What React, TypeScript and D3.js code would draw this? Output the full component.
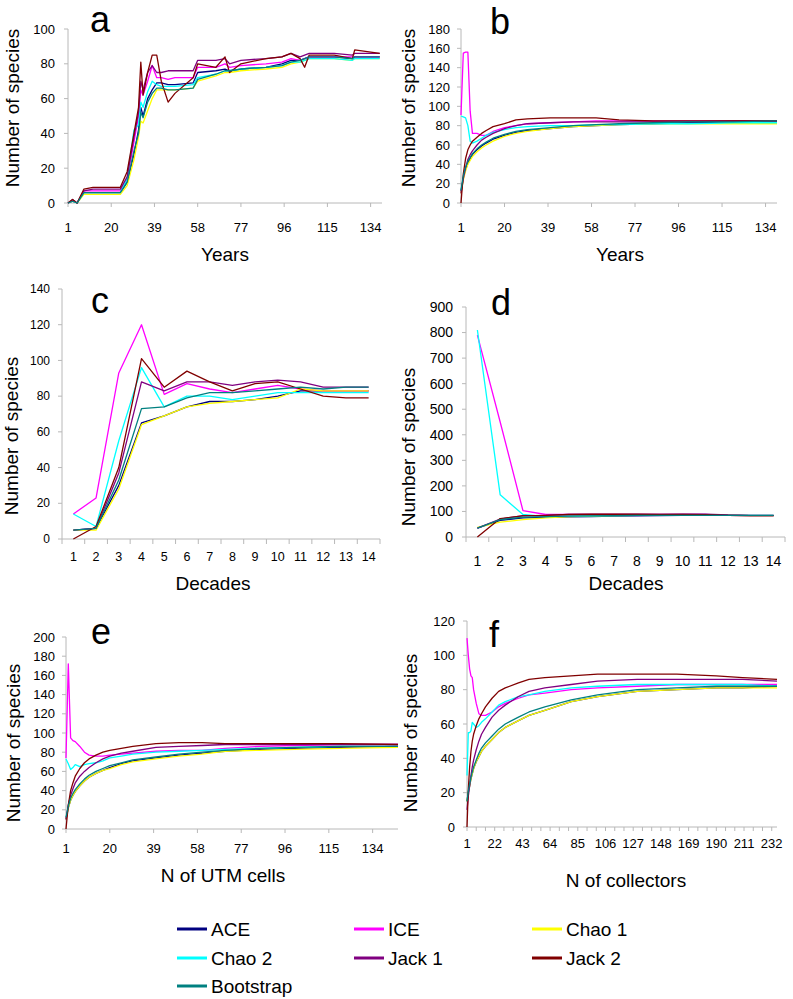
import React from 'react';
import * as d3 from 'd3';

const SERIES_NAMES = ['ACE', 'ICE', 'Chao 1', 'Chao 2', 'Jack 1', 'Jack 2', 'Bootstrap'];
const SERIES_COLORS = ['#000080', '#FF00FF', '#FFFF00', '#00FFFF', '#800080', '#800000', '#008080'];

// ---- Panel a: Years (observed)
const aYears = [1, 3, 5, 8, 12, 24, 27, 30, 32, 33, 34, 36, 38, 40, 42, 45, 48, 56, 58, 66, 70, 72, 77, 88, 95, 99, 103, 105, 107, 118, 126, 127, 138];
const aACE = [0, 1, 0, 6, 6, 6, 12, 28, 42, 55, 50, 60, 65, 69, 69, 68, 68, 69, 75, 76, 77, 76, 77, 78, 80, 82, 82, 83, 84, 84, 83, 84, 84];
const aICE = [0, 1, 0, 7, 7, 7, 14, 35, 50, 65, 62, 70, 79, 72, 72, 71, 72, 72, 78, 78, 80, 78, 79, 80, 81, 83, 82, 83, 84, 84, 84, 84, 84];
const aChao1 = [0, 1, 0, 5, 5, 5, 10, 25, 38, 47, 46, 53, 60, 65, 65, 65, 65, 66, 70, 73, 75, 75, 76, 77, 78, 80, 81, 82, 83, 83, 82, 83, 83];
const aChao2 = [0, 1, 0, 6, 6, 6, 14, 42, 45, 58, 55, 64, 70, 68, 67, 67, 67, 68, 72, 74, 76, 76, 77, 78, 79, 81, 81, 82, 83, 83, 82, 83, 83];
const aJack1 = [0, 2, 0, 7, 8, 8, 15, 38, 52, 70, 65, 75, 79, 75, 75, 76, 76, 76, 82, 82, 83, 80, 82, 83, 84, 86, 84, 85, 86, 86, 85, 86, 86];
const aJack2 = [0, 2, 0, 8, 9, 9, 18, 40, 55, 81, 62, 75, 85, 85, 70, 58, 63, 72, 80, 78, 84, 75, 80, 83, 84, 86, 83, 78, 85, 85, 83, 88, 86];
const aBoot = [0, 1, 0, 6, 6, 6, 12, 30, 40, 52, 49, 58, 63, 66, 66, 65, 65, 66, 71, 74, 76, 76, 77, 78, 79, 81, 82, 83, 84, 84, 83, 84, 84];

// ---- Panel b: Years (randomized)
const bYears = [1, 2, 3, 4, 5, 6, 8, 10, 12, 15, 20, 25, 30, 40, 50, 60, 70, 85, 100, 120, 139];
const bACE = [12, 26, 35, 41, 46, 50, 55, 59, 62, 66, 70, 73, 75, 77, 79, 80, 81, 82, 83, 84, 84];
const bICE = [91, 155, 156, 156, 95, 72, 72, 70, 70, 74, 78, 80, 82, 83, 84, 85, 85, 85, 85, 85, 85];
const bChao1 = [10, 24, 33, 40, 44, 48, 53, 57, 60, 64, 69, 72, 74, 77, 79, 80, 81, 82, 82, 82, 82];
const bChao2 = [90, 89, 88, 80, 64, 62, 64, 67, 70, 73, 76, 78, 79, 80, 80, 81, 81, 82, 82, 83, 83];
const bJack1 = [10, 25, 36, 45, 50, 54, 60, 65, 68, 72, 77, 80, 82, 83, 84, 84, 84, 84, 84, 85, 85];
const bJack2 = [0, 30, 46, 55, 60, 64, 68, 72, 75, 79, 82, 86, 87, 88, 88, 88, 86, 85, 85, 85, 85];
const bBoot = [13, 28, 37, 43, 47, 51, 56, 60, 63, 67, 71, 74, 76, 78, 80, 81, 82, 83, 84, 84, 85];

// ---- Panel c: Decades (observed)
const decades = [1, 2, 3, 4, 5, 6, 7, 8, 9, 10, 11, 12, 13, 14];
const cACE = [5, 6, 30, 65, 69, 74, 77, 77, 78, 80, 83, 83, 83, 83];
const cICE = [14, 23, 93, 120, 81, 87, 84, 82, 84, 86, 84, 83, 83, 83];
const cChao1 = [5, 5, 28, 64, 69, 74, 76, 77, 78, 79, 84, 83, 83, 83];
const cChao2 = [14, 7, 55, 96, 74, 80, 80, 78, 80, 82, 82, 82, 82, 82];
const cJack1 = [5, 6, 37, 88, 83, 88, 88, 86, 88, 89, 88, 85, 85, 85];
const cJack2 = [0, 7, 40, 101, 85, 94, 88, 83, 87, 88, 84, 80, 79, 79];
const cBoot = [5, 6, 33, 73, 74, 79, 82, 82, 83, 84, 85, 84, 85, 85];

// ---- Panel d: Decades (randomized)
const dACE = [35, 65, 75, 77, 79, 80, 82, 83, 84, 85, 85, 85, 84, 84];
const dICE = [790, 450, 103, 88, 88, 88, 88, 88, 88, 88, 88, 85, 84, 84];
const dChao1 = [38, 58, 68, 75, 80, 82, 84, 85, 85, 85, 85, 85, 84, 84];
const dChao2 = [810, 165, 88, 80, 82, 83, 84, 85, 85, 85, 85, 85, 85, 85];
const dJack1 = [35, 70, 84, 85, 88, 88, 88, 88, 88, 89, 89, 86, 85, 85];
const dJack2 = [0, 72, 83, 85, 88, 89, 89, 89, 88, 88, 87, 85, 84, 84];
const dBoot = [35, 68, 78, 80, 82, 83, 84, 85, 85, 85, 85, 85, 85, 85];

// ---- Panel e: N of UTM cells
const eCells = [1, 2, 3, 4, 5, 7, 9, 11, 14, 17, 20, 25, 30, 40, 50, 60, 70, 85, 100, 120, 145];
const eACE = [10, 22, 30, 35, 39, 45, 50, 54, 58, 61, 64, 68, 71, 74, 77, 79, 81, 83, 84, 85, 86];
const eICE = [74, 172, 95, 92, 91, 86, 80, 77, 76, 76, 77, 78, 79, 81, 82, 82, 84, 86, 87, 88, 88];
const eChao1 = [10, 22, 30, 35, 39, 45, 50, 54, 58, 61, 63, 67, 70, 73, 76, 78, 81, 82, 83, 84, 85];
const eChao2 = [73, 68, 62, 64, 67, 65, 67, 68, 69, 71, 74, 76, 78, 80, 81, 82, 83, 84, 85, 86, 86];
const eJack1 = [10, 25, 35, 42, 48, 55, 60, 64, 69, 73, 76, 79, 81, 85, 86, 87, 88, 88, 88, 88, 88];
const eJack2 = [0, 25, 40, 48, 55, 63, 69, 73, 77, 80, 82, 84, 86, 89, 90, 90, 89, 89, 89, 89, 88];
const eBoot = [12, 24, 32, 37, 41, 47, 52, 56, 60, 63, 66, 69, 72, 75, 78, 80, 82, 84, 85, 86, 86];

// ---- Panel f: N of collectors
const fCollectors = [1, 2, 3, 4, 5, 6, 8, 10, 12, 15, 20, 25, 30, 40, 48, 60, 80, 100, 130, 160, 190, 210, 236];
const fACE = [15, 20, 24, 28, 31, 34, 38, 41, 44, 47, 51, 55, 58, 62, 65, 68, 73, 76, 79, 80, 81, 81, 82];
const fICE = [110, 100, 92, 88, 87, 80, 72, 66, 65, 65, 67, 70, 72, 75, 77, 78, 80, 81, 82, 83, 83, 83, 83];
const fChao1 = [15, 20, 24, 28, 31, 34, 38, 41, 44, 47, 51, 55, 58, 62, 65, 68, 73, 76, 79, 80, 81, 81, 81];
const fChao2 = [30, 55, 55, 56, 61, 60, 58, 59, 61, 63, 67, 71, 73, 76, 77, 79, 81, 82, 83, 83, 83, 83, 82];
const fJack1 = [10, 18, 24, 30, 35, 39, 45, 50, 54, 58, 64, 68, 71, 76, 79, 81, 83, 85, 86, 86, 86, 86, 85];
const fJack2 = [0, 22, 35, 44, 50, 54, 59, 63, 66, 70, 75, 79, 81, 84, 86, 87, 88, 89, 89, 89, 88, 87, 86];
const fBoot = [15, 21, 25, 29, 32, 35, 39, 43, 46, 49, 53, 57, 60, 64, 67, 70, 74, 77, 80, 81, 82, 82, 82];

const yearTicks = [1, 20, 39, 58, 77, 96, 115, 134];
const collectorTicks = [1, 22, 43, 64, 85, 106, 127, 148, 169, 190, 211, 232];

const FONT = "'Liberation Sans', Arial, Helvetica, sans-serif";
const AXIS = '#b8b8b8';

type PanelDef = {
  letter: string; letterX: number; letterY: number;
  kind: 'linear' | 'band';
  left: number; right: number; top: number; bottom: number;
  xDomain?: [number, number]; xTicks?: number[]; minorStep?: number;
  yMax: number; yStep: number;
  xs: number[]; series: number[][];
  xLabel: string; xLabelX: number; xLabelY: number;
  yTitleX: number; yTitleY: number;
  tickFont: number; xTickFont: number; xTickY: number; yGap: number;
};

const panels: PanelDef[] = [
  { letter: 'a', letterX: 90, letterY: 32, kind: 'linear', left: 68, right: 382, top: 29, bottom: 203,
    xDomain: [1, 139], xTicks: yearTicks, yMax: 100, yStep: 20, xs: aYears,
    series: [aACE, aICE, aChao1, aChao2, aJack1, aJack2, aBoot],
    xLabel: 'Years', xLabelX: 225, xLabelY: 254, yTitleX: 12, yTitleY: 108,
    tickFont: 13, xTickFont: 13, xTickY: 227, yGap: 13 },
  { letter: 'b', letterX: 490, letterY: 34, kind: 'linear', left: 461, right: 777, top: 29, bottom: 203,
    xDomain: [1, 139], xTicks: yearTicks, yMax: 180, yStep: 20, xs: bYears,
    series: [bACE, bICE, bChao1, bChao2, bJack1, bJack2, bBoot],
    xLabel: 'Years', xLabelX: 620, xLabelY: 254, yTitleX: 408, yTitleY: 108,
    tickFont: 13, xTickFont: 13, xTickY: 227, yGap: 11 },
  { letter: 'c', letterX: 91, letterY: 313, kind: 'band', left: 62, right: 380, top: 289, bottom: 539,
    yMax: 140, yStep: 20, xs: decades,
    series: [cACE, cICE, cChao1, cChao2, cJack1, cJack2, cBoot],
    xLabel: 'Decades', xLabelX: 213, xLabelY: 583, yTitleX: 11, yTitleY: 436,
    tickFont: 12, xTickFont: 12.5, xTickY: 557, yGap: 12 },
  { letter: 'd', letterX: 491, letterY: 315, kind: 'band', left: 466, right: 785, top: 307, bottom: 537,
    yMax: 900, yStep: 100, xs: decades,
    series: [dACE, dICE, dChao1, dChao2, dJack1, dJack2, dBoot],
    xLabel: 'Decades', xLabelX: 626, xLabelY: 583, yTitleX: 408, yTitleY: 447,
    tickFont: 14, xTickFont: 14, xTickY: 561, yGap: 13 },
  { letter: 'e', letterX: 91, letterY: 644, kind: 'linear', left: 66, right: 398, top: 637, bottom: 829,
    xDomain: [1, 145], xTicks: yearTicks, yMax: 200, yStep: 20, xs: eCells,
    series: [eACE, eICE, eChao1, eChao2, eJack1, eJack2, eBoot],
    xLabel: 'N of UTM cells', xLabelX: 223, xLabelY: 875, yTitleX: 13, yTitleY: 743,
    tickFont: 13, xTickFont: 13, xTickY: 848, yGap: 11 },
  { letter: 'f', letterX: 489, letterY: 647, kind: 'linear', left: 467, right: 777, top: 621, bottom: 827,
    xDomain: [1, 236], xTicks: collectorTicks, minorStep: 7, yMax: 120, yStep: 20, xs: fCollectors,
    series: [fACE, fICE, fChao1, fChao2, fJack1, fJack2, fBoot],
    xLabel: 'N of collectors', xLabelX: 626, xLabelY: 880, yTitleX: 410, yTitleY: 733,
    tickFont: 13, xTickFont: 13, xTickY: 843, yGap: 12 },
];

function Panel({ p }: { p: PanelDef }) {
  const y = d3.scaleLinear().domain([0, p.yMax]).range([p.bottom, p.top]);
  const yTicks = d3.range(0, p.yMax + 0.001, p.yStep);
  let xPos: (v: number) => number;
  let xTickEls: React.ReactNode[] = [];
  let xLabelEls: React.ReactNode[] = [];
  if (p.kind === 'band') {
    const xb = d3.scaleBand<number>().domain(p.xs).range([p.left, p.right]).padding(0);
    const bw = xb.bandwidth();
    xPos = (v: number) => (xb(v) as number) + bw / 2;
    xTickEls = d3.range(0, p.xs.length + 1).map((k) => (
      <line key={'t' + k} x1={p.left + k * bw} x2={p.left + k * bw} y1={p.bottom} y2={p.bottom + 5} stroke={AXIS} />
    ));
    xLabelEls = p.xs.map((v) => (
      <text key={'l' + v} x={xPos(v)} y={p.xTickY} dy="0.35em" textAnchor="middle" fontSize={p.xTickFont}>{v}</text>
    ));
  } else {
    const xl = d3.scaleLinear().domain(p.xDomain as [number, number]).range([p.left, p.right]);
    xPos = (v: number) => xl(v);
    const minor = p.minorStep ? d3.range(1, (p.xDomain as number[])[1] + 0.1, p.minorStep) : (p.xTicks as number[]);
    xTickEls = minor.map((v) => (
      <line key={'t' + v} x1={xl(v)} x2={xl(v)} y1={p.bottom} y2={p.bottom + 4} stroke={AXIS} />
    ));
    xLabelEls = (p.xTicks as number[]).map((v) => (
      <text key={'l' + v} x={xl(v)} y={p.xTickY} dy="0.35em" textAnchor="middle" fontSize={p.xTickFont}>{v}</text>
    ));
  }
  const line = d3.line<number>()
    .x((_, i) => xPos(p.xs[i]))
    .y((d) => y(d));
  return (
    <g>
      <line x1={p.left} x2={p.left} y1={p.top} y2={p.bottom} stroke={AXIS} />
      <line x1={p.left} x2={p.right} y1={p.bottom} y2={p.bottom} stroke={AXIS} />
      {yTicks.map((t) => (
        <g key={'y' + t}>
          <line x1={p.left - 4} x2={p.left} y1={y(t)} y2={y(t)} stroke={AXIS} />
          <text x={p.left - p.yGap} y={y(t)} dy="0.35em" textAnchor="end" fontSize={p.tickFont}>{t}</text>
        </g>
      ))}
      {xTickEls}
      {xLabelEls}
      {p.series.map((s, i) => (
        <path key={'s' + i} d={line(s) as string} fill="none" stroke={SERIES_COLORS[i]} strokeWidth={1.3} strokeLinejoin="round" />
      ))}
      <text x={p.letterX} y={p.letterY} fontSize={36}>{p.letter}</text>
      <text x={p.xLabelX} y={p.xLabelY} dy="0.35em" textAnchor="middle" fontSize={19}>{p.xLabel}</text>
      <text transform={`translate(${p.yTitleX},${p.yTitleY}) rotate(-90)`} dy="0.35em" textAnchor="middle" fontSize={19}>Number of species</text>
    </g>
  );
}

const legendCols = [177, 354, 532];
const legendRows = [929, 958, 986];

export default function App() {
  return (
    <svg width={793} height={999} style={{ position: 'absolute', left: 0, top: 0, background: '#fff' }}
      fontFamily={FONT} fill="#000">
      <rect x={0} y={0} width={793} height={999} fill="#fff" />
      {panels.map((p) => <Panel key={p.letter} p={p} />)}
      {SERIES_NAMES.map((name, i) => {
        const cx = legendCols[i % 3];
        const cy = legendRows[Math.floor(i / 3)];
        return (
          <g key={name}>
            <line x1={cx} x2={cx + 30} y1={cy} y2={cy} stroke={SERIES_COLORS[i]} strokeWidth={3} />
            <text x={cx + 34} y={cy} dy="0.35em" fontSize={19}>{name}</text>
          </g>
        );
      })}
    </svg>
  );
}
